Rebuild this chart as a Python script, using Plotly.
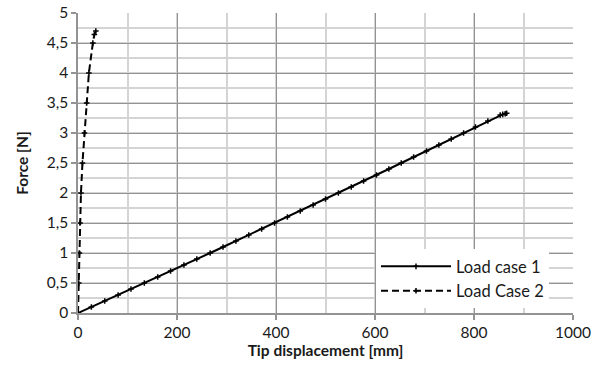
import plotly.graph_objects as go

# Load case 1 (solid)
lc1_disp = [0, 27, 54, 81, 107, 134, 161, 187, 214, 240, 267, 293, 319, 345, 371,
            397, 423, 449, 475, 500, 526, 552, 577, 603, 628, 653, 678, 704, 729,
            754, 779, 803, 828, 853, 858, 863, 866]
lc1_force = [0, 0.1, 0.2, 0.3, 0.4, 0.5, 0.6, 0.7, 0.8, 0.9, 1.0, 1.1, 1.2, 1.3, 1.4,
             1.5, 1.6, 1.7, 1.8, 1.9, 2.0, 2.1, 2.2, 2.3, 2.4, 2.5, 2.6, 2.7, 2.8,
             2.9, 3.0, 3.1, 3.2, 3.3, 3.31, 3.32, 3.33]

# Load case 2 (dashed)
lc2_disp = [0, 1.5, 2.8, 4, 6, 9, 13, 17.5, 22, 30, 33, 36]
lc2_force = [0, 0.5, 1.0, 1.5, 2.0, 2.5, 3.0, 3.5, 4.0, 4.5, 4.64, 4.7]

series_names = ["Load case 1", "Load Case 2"]

x_tickvals = [0, 200, 400, 600, 800, 1000]
x_ticktext = ["0", "200", "400", "600", "800", "1000"]
y_tickvals = [0, 0.5, 1, 1.5, 2, 2.5, 3, 3.5, 4, 4.5, 5]
y_ticktext = ["0", "0,5", "1", "1,5", "2", "2,5", "3", "3,5", "4", "4,5", "5"]

x_title = "Tip displacement [mm]"
y_title = "Force [N]"

FONT = "Lato, 'Open Sans', sans-serif"
marker = dict(symbol="cross-thin", size=4, color="black",
              line=dict(color="black", width=1.5))

fig = go.Figure()
fig.add_trace(go.Scatter(x=lc1_disp, y=lc1_force, mode="lines+markers",
                         name=series_names[0],
                         line=dict(color="black", width=2), marker=marker))
fig.add_trace(go.Scatter(x=lc2_disp, y=lc2_force, mode="lines+markers",
                         name=series_names[1],
                         line=dict(color="black", width=2, dash="7px,4px"),
                         marker=marker))

major = "#939393"
minor = "#d4d4d4"

fig.update_layout(
    width=601, height=374,
    margin=dict(l=78, r=28, t=13, b=61),
    paper_bgcolor="white", plot_bgcolor="white",
    font=dict(family=FONT, size=16, color="#1a1a1a"),
    showlegend=True,
    legend=dict(x=0.602, y=0.213, xanchor="left", yanchor="top",
                bgcolor="white", borderwidth=0, itemwidth=70,
                font=dict(family=FONT, size=16.5), tracegroupgap=0),
    xaxis=dict(range=[0, 1000], tickvals=x_tickvals, ticktext=x_ticktext,
               automargin=False, ticklabeloverflow="allow",
               showgrid=True, gridcolor=major, gridwidth=1.2,
               minor=dict(dtick=100, showgrid=True, gridcolor=minor, gridwidth=1.5),
               zeroline=False, showline=True, linecolor=major, linewidth=1.5,
               ticks="outside", ticklen=5, tickcolor=major, tickwidth=1.5,
               title=dict(text="<b>" + x_title + "</b>", standoff=4,
                          font=dict(family=FONT, size=15.5)),
               tickfont=dict(family=FONT, size=15.5)),
    yaxis=dict(range=[0, 5], tickvals=y_tickvals, ticktext=y_ticktext,
               automargin=False, ticklabeloverflow="allow",
               showgrid=True, gridcolor=major, gridwidth=1.2,
               minor=dict(dtick=0.25, showgrid=True, gridcolor=minor, gridwidth=1.5),
               zeroline=False, showline=True, linecolor=major, linewidth=1.5,
               ticks="outside", ticklen=5, tickcolor=major, tickwidth=1.5,
               title=dict(text="<b>" + y_title + "</b>", standoff=14,
                          font=dict(family=FONT, size=15.5)),
               tickfont=dict(family=FONT, size=15.5)),
)

fig.write_html("out.html", config={"displayModeBar": False},
               post_script="document.body.style.margin='0';")
